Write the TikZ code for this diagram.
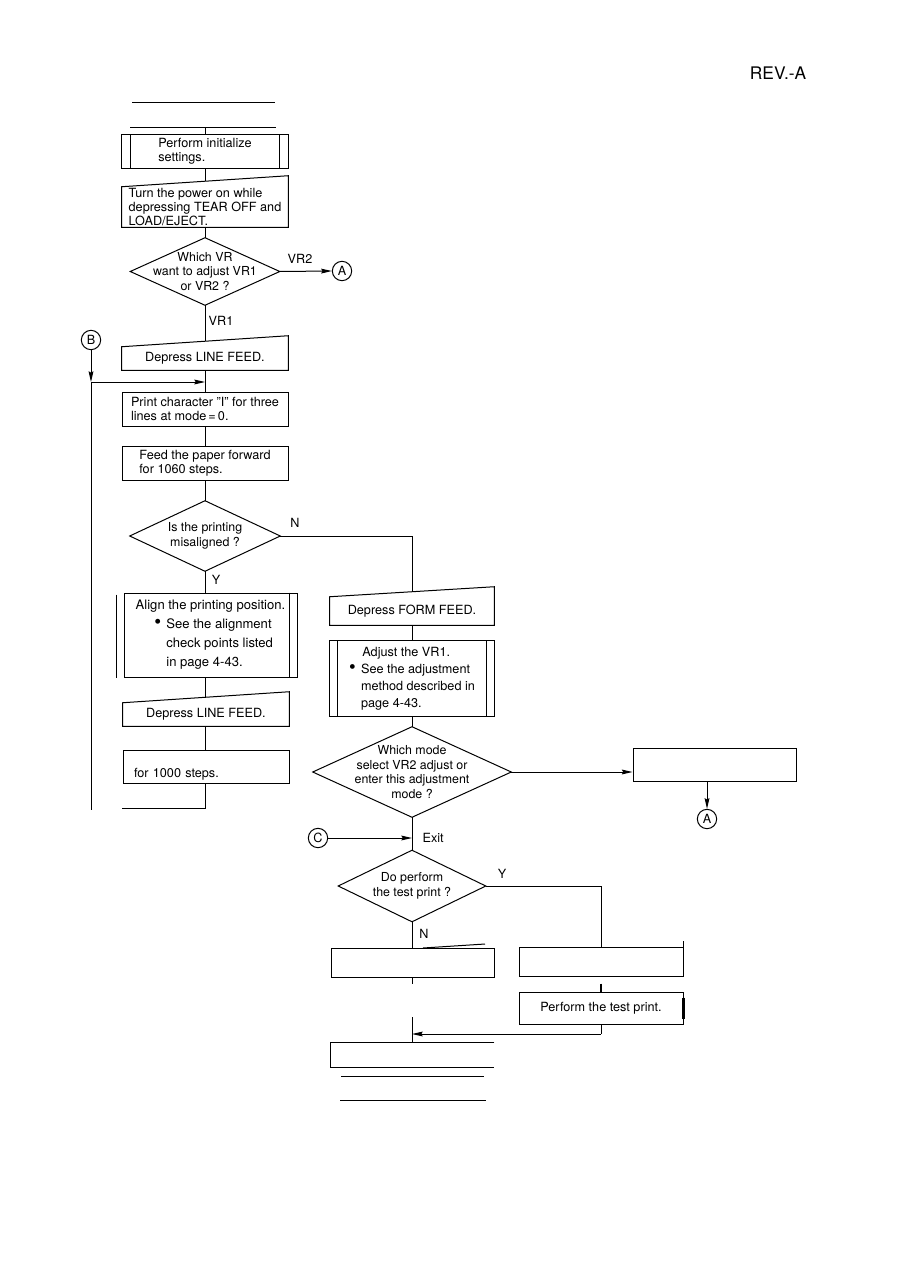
\documentclass[tikz,border=0pt]{standalone}
\usepackage{fontspec}
\setmainfont{TeX Gyre Heros}
\usetikzlibrary{arrows.meta, positioning, calc}

% outline helpers for the flowchart symbols
\newcommand\manualtop[2]{\draw[edgeline] (#1.south west) -- (#1.south east) -- ($(#1.north east)+(0,-#2)$) -- (#1.north west) -- cycle;}
\newcommand\predefbars[2]{\draw[edgeline] ($(#1.north west)+(#2,0)$) -- ($(#1.south west)+(#2,0)$) ($(#1.north east)+(-#2,0)$) -- ($(#1.south east)+(-#2,0)$);}
\newcommand\decisionlines[1]{\draw[edgeline] (#1.north) -- (#1.east) -- (#1.south) -- (#1.west) -- cycle;}
\newcommand\bigdot{\makebox[9pt][l]{\scalebox{1.5}{\textbullet}}}

\begin{document}
\begin{tikzpicture}[
        x=0.75pt, y=-0.75pt,
        edgeline/.style={line width=0.75pt},
        arrow/.style={edgeline, -{Stealth[length=8pt, width=3.6pt, inset=1pt]}},
        box/.style={rectangle, inner sep=0pt, align=left, font=\fontsize{9.5}{10.6}\selectfont},
        plainbox/.style={box, draw, line width=0.75pt},
        decision/.style={rectangle, inner sep=0pt, align=center, font=\fontsize{9.3}{10.9}\selectfont},
        connector/.style={circle, draw, line width=0.75pt, minimum size=14.5pt, inner sep=0pt, font=\fontsize{9.5}{10}\selectfont},
        lbl/.style={inner sep=1pt, font=\fontsize{9.5}{10}\selectfont}
    ]
    \useasboundingbox (0,0) rectangle (896,1266);

    \node[font=\fontsize{13}{15}\selectfont] (rev) at (778,73) {REV.-A};

    % header rules
    \draw[edgeline] (132,103) -- (275,103);
    \draw[edgeline] (130,128) -- (276,128);
    \coordinate (topstub) at (205,128);

    % Left column
    \node[box, minimum width=124.5pt, minimum height=24.75pt] (init) at (205,151.5) {Perform initialize\\settings.};
    \draw[edgeline] (init.north west) rectangle (init.south east);
    \predefbars{init}{9}

    \node[box, minimum width=124.5pt, minimum height=30pt] (power) at (205,207) {Turn the power on while\\depressing TEAR OFF and\\LOAD/EJECT.};
    \manualtop{power}{11}
    \coordinate (powertop) at ($(power.north)+(0,-5.5)$);

    \node[decision, minimum width=111.75pt, minimum height=50.25pt] (whichvr) at (205,271.5) {Which VR\\want to adjust VR1\\or VR2 ?};
    \decisionlines{whichvr}

    \node[connector] (A1) at (342,271) {A};
    \node[lbl] (vr2) at (300,259) {VR2};
    \node[lbl] (vr1) at (221,321) {VR1};

    \node[box, minimum width=124.5pt, minimum height=17.25pt, align=center] (lfeed) at (205,358.5) {Depress LINE FEED.};
    \manualtop{lfeed}{11}
    \coordinate (lfeedtop) at ($(lfeed.north)+(0,-5.5)$);

    \node[connector] (B) at (91,340) {B};
    \coordinate (loopjoin) at (91,382);
    \coordinate (loopend) at (91,810);
    \coordinate (mainjoin) at (205,382);

    \node[plainbox, minimum width=124.5pt, minimum height=25.5pt] (printI) at (205,409) {Print character "I" for three\\lines at mode\,=\,0.};
    \node[plainbox, minimum width=124.5pt, minimum height=25.5pt] (feed) at (205,463) {Feed the paper forward\\for 1060 steps.};

    \node[decision, minimum width=112.5pt, minimum height=52.5pt] (misalign) at (205,536) {Is the printing\\misaligned ?};
    \decisionlines{misalign}
    \node[lbl] (nlbl1) at (295,523) {N};
    \node[lbl] (ylbl1) at (216,580) {Y};

    \node[plainbox, minimum width=129.75pt, minimum height=63pt, font=\fontsize{9.8}{14.2}\selectfont] (align) at (210.5,635) {Align the printing position.\\
        \hspace*{14pt}\bigdot See the alignment\\
        \hspace*{23pt}check points listed\\
        \hspace*{23pt}in page 4-43.};
    \draw[edgeline] ($(align.north east)+(-8,0)$) -- ($(align.south east)+(-8,0)$);
    \draw[edgeline] ($(align.north west)+(-7,2)$) -- ($(align.south west)+(-7,0)$);

    \node[box, minimum width=124.5pt, minimum height=17.25pt, align=center] (lfeedb) at (206,714.5) {Depress LINE FEED.};
    \manualtop{lfeedb}{11}
    \coordinate (lfeedbtop) at (205,697.5);

    \node[plainbox, minimum width=124.5pt, minimum height=24.75pt, text width=108pt] (steps) at (206,766.5) {\strut\\for 1000 steps.};
    \coordinate (stepsturn) at (205,808);
    \coordinate (stepsend) at (122,808);

    % Right column
    \node[box, minimum width=123pt, minimum height=21pt, align=center] (ffeed) at (412,611) {Depress FORM FEED.};
    \manualtop{ffeed}{10}
    \coordinate (ffeedtop) at ($(ffeed.north)+(0,-5)$);

    \node[box, minimum width=123pt, minimum height=56.25pt, font=\fontsize{9.5}{12.8}\selectfont] (adjust) at (412,678.5) {\hspace*{10pt}Adjust the VR1.\\
        \bigdot See the adjustment\\
        \hspace*{9pt}method described in\\
        \hspace*{9pt}page 4-43.};
    \draw[edgeline] (adjust.north west) rectangle (adjust.south east);
    \predefbars{adjust}{8}

    \node[decision, minimum width=148.5pt, minimum height=67.5pt] (mode) at (412,772) {Which mode\\select VR2 adjust or\\enter this adjustment\\mode ?};
    \decisionlines{mode}

    \node[plainbox, minimum width=122.25pt, minimum height=24.75pt] (blank) at (714.5,764.5) {};
    \node[connector] (A2) at (707,819) {A};

    \node[connector] (C) at (318,838) {C};
    \coordinate (exitjoin) at (412,838);
    \node[lbl, anchor=west] (exit) at (421,838) {Exit};

    \node[decision, minimum width=110.25pt, minimum height=53.25pt] (testq) at (412,886) {Do perform\\the test print ?};
    \decisionlines{testq}
    \node[lbl] (ylbl2) at (502,874) {Y};
    \node[lbl] (nlbl2) at (424,934) {N};

    \node[plainbox, minimum width=122.25pt, minimum height=21.75pt] (nobox) at (412.5,962.5) {};
    \draw[edgeline] (423,948) -- (485,944);

    \node[plainbox, minimum width=123pt, minimum height=21.75pt] (yesbox) at (601,961.5) {};
    \draw[edgeline] (yesbox.north east) -- ++(0,-6);
    \node[plainbox, minimum width=123pt, minimum height=24pt, align=center] (testprint) at (601,1008) {Perform the test print.};
    \draw[line width=1.6pt] ($(testprint.north east)+(0,6)$) -- ($(testprint.south east)+(0,-6)$);

    \coordinate (returnturn) at (601,1034);
    \coordinate (finalstub) at (412,1017);
    \node[box, minimum width=122.25pt, minimum height=18pt] (final) at (412.5,1055) {};
    \draw[edgeline] (final.north east) -- (final.north west) -- (final.south west) -- (final.south east);
    \draw[edgeline] (341,1076) -- (484,1076);
    \draw[edgeline] (340,1100) -- (486,1100);

    % Connectors, left column
    \draw[edgeline] (topstub) -- (topstub |- init.north);
    \draw[edgeline] (init.south) -- (powertop);
    \draw[edgeline] (power.south) -- (whichvr.north);
    \draw[arrow] (whichvr.east) -- (A1.west);
    \draw[edgeline] (whichvr.south) -- (lfeedtop);
    \draw[edgeline] (lfeed.south) -- (printI.north);
    \draw[arrow] (B.south) -- (loopjoin);
    \draw[edgeline] (loopjoin) -- (loopend);
    \draw[arrow] (loopjoin) -- (mainjoin);
    \draw[edgeline] (printI.south) -- (feed.north);
    \draw[edgeline] (feed.south) -- (misalign.north);
    \draw[edgeline] (misalign.south) -- (misalign.south |- align.north);
    \draw[edgeline] (misalign.south |- align.south) -- (lfeedbtop);
    \draw[edgeline] (lfeedb.south -| lfeedbtop) -- (lfeedbtop |- steps.north);
    \draw[edgeline] (lfeedbtop |- steps.south) -- (stepsturn) -- (stepsend);

    % Connectors, right column
    \draw[edgeline] (misalign.east) -| (ffeedtop);
    \draw[edgeline] (ffeed.south) -- (adjust.north);
    \draw[edgeline] (adjust.south) -- (mode.north);
    \draw[arrow] (mode.east) -- (mode.east -| blank.west);
    \draw[arrow] (A2 |- blank.south) -- (A2.north);
    \draw[edgeline] (mode.south) -- (testq.north);
    \draw[arrow] (C.east) -- (exitjoin);
    \draw[edgeline] (testq.east) -| (yesbox.north -| returnturn);
    \draw[edgeline] (testq.south) -- (testq.south |- nobox.north);
    \draw[edgeline] (testq.south |- nobox.south) -- ++(0,6);
    \draw[line width=1.4pt] (returnturn |- yesbox.south) ++(0,7) -- ++(0,8);
    \draw[edgeline] (testprint.south -| returnturn) -- (returnturn);
    \draw[arrow] (returnturn) -- (returnturn -| finalstub);
    \draw[edgeline] (finalstub) -- (finalstub |- final.north);

\end{tikzpicture}
\end{document}
